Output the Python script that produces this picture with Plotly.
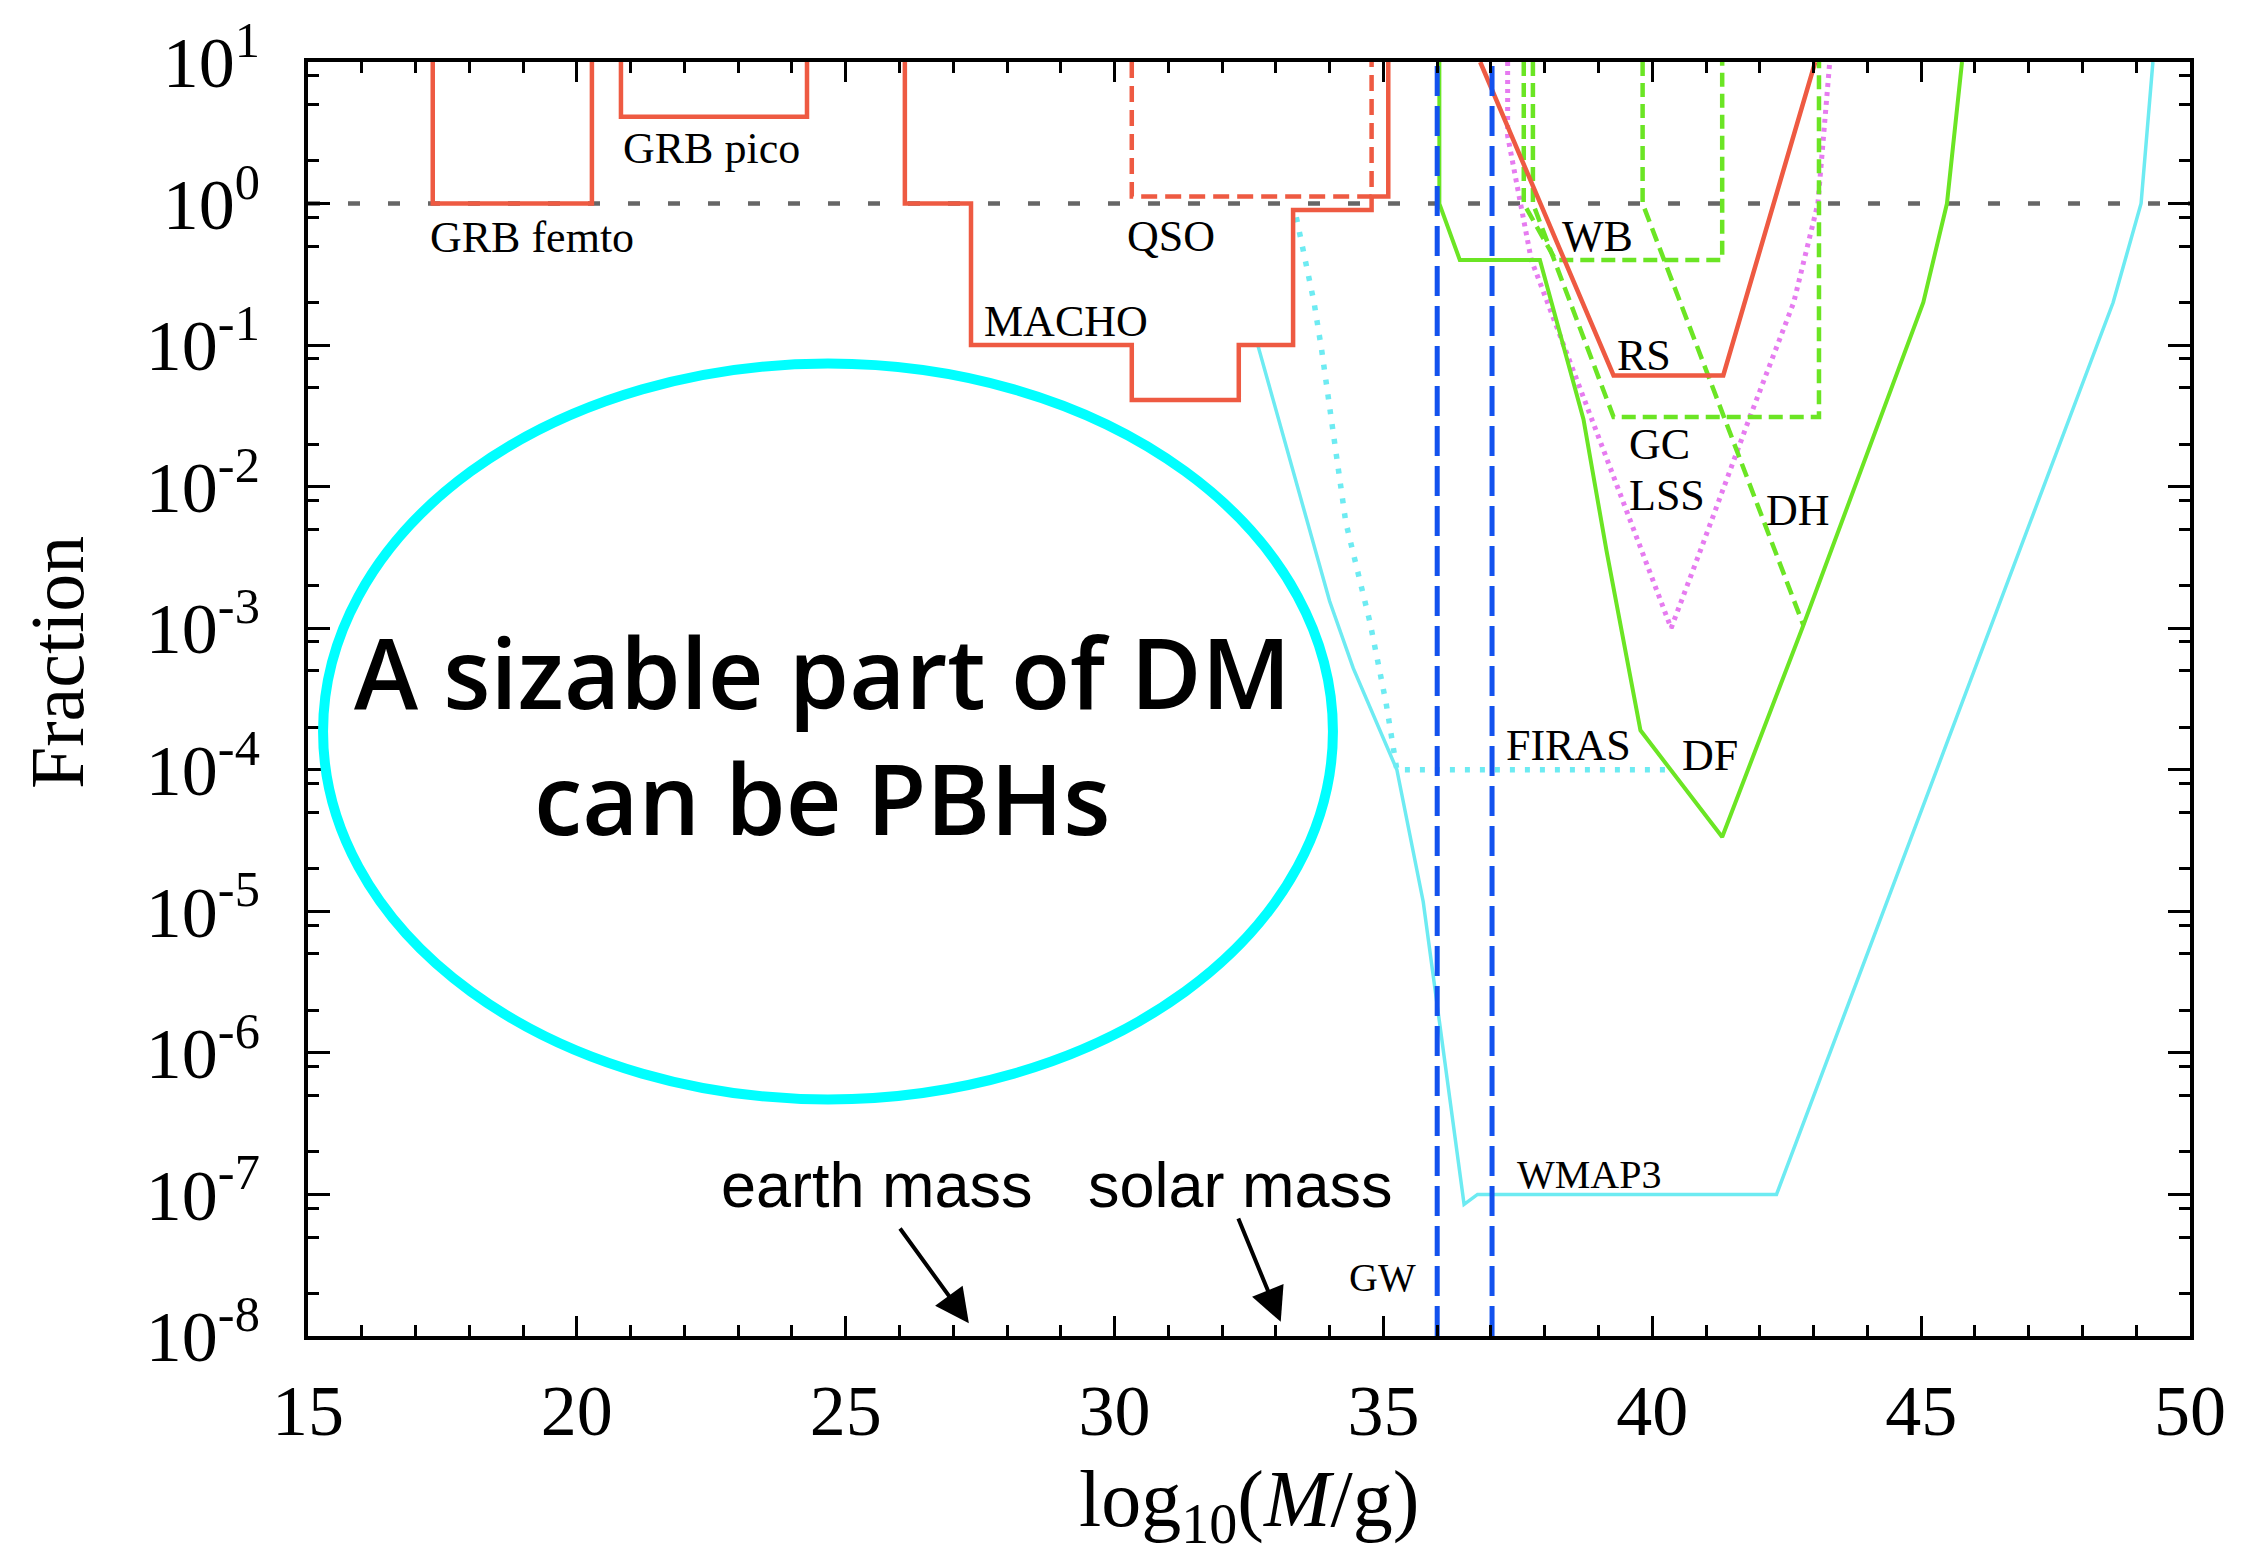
import plotly.graph_objects as go

# ---------------- data ----------------
unit_x = [15, 50]
unit_y = [1.0, 1.0]

grb_femto_x = [17.32, 17.32, 20.28, 20.28]
grb_femto_y = [10, 1.0, 1.0, 10]

grb_pico_x = [20.82, 20.82, 24.28, 24.28]
grb_pico_y = [10, 4.1, 4.1, 10]

macho_x = [26.1, 26.1, 27.33, 27.33, 30.32, 30.32, 32.31, 32.31, 33.32, 33.32, 34.78, 34.78, 35.09, 35.09]
macho_y = [10, 1.0, 1.0, 0.1, 0.1, 0.041, 0.041, 0.1, 0.1, 0.90, 0.90, 1.12, 1.12, 10]

qso_x = [30.32, 30.32, 34.78, 34.78]
qso_y = [10, 1.12, 1.12, 10]

rs_x = [36.8, 39.28, 41.32, 43.03]
rs_y = [10, 0.061, 0.061, 10]

wb_x = [37.61, 37.61, 38.2, 41.3, 41.3]
wb_y = [10, 1.0, 0.40, 0.40, 10]

gc_x = [37.78, 37.78, 39.28, 43.1, 43.1]
gc_y = [10, 1.0, 0.031, 0.031, 10]

dh_x = [39.82, 39.82, 42.81]
dh_y = [10, 1.0, 1.05e-3]

lss_x = [37.31, 37.31, 37.75, 40.35, 40.89, 41.8, 42.63, 43.08, 43.3]
lss_y = [10, 3.0, 0.40, 1.0e-3, 3.5e-3, 0.030, 0.20, 1.0, 10]

df_x = [36.04, 36.04, 36.42, 37.91, 38.72, 39.15, 39.78, 41.30, 42.81, 45.04, 45.48, 45.76]
df_y = [10, 1.0, 0.40, 0.40, 0.030, 3.5e-3, 1.9e-4, 3.35e-5, 1.05e-3, 0.20, 1.0, 10]

wmap_x = [32.67, 34.0, 34.44, 35.25, 35.74, 35.93, 36.2, 36.5, 36.75, 42.31, 48.57, 49.09, 49.31]
wmap_y = [0.098, 1.55e-3, 5.2e-4, 1.0e-4, 1.17e-5, 3.5e-6, 6.3e-7, 8.5e-8, 1.0e-7, 1.0e-7, 0.20, 1.0, 10]

firas_x = [33.38, 33.71, 33.85, 34.3, 34.75, 35.05, 35.25, 40.25]
firas_y = [0.80, 0.20, 0.093, 5.6e-3, 1.1e-3, 2.95e-4, 1.0e-4, 1.0e-4]

gw1_x = [36.0, 36.0]
gw2_x = [37.02, 37.02]
gw_y = [1e-8, 10]

# labels: (text, x, log10 y)
labels = [
    ("GRB femto", 19.17, -0.24),
    ("GRB pico", 22.5, 0.39),
    ("QSO", 31.05, -0.23),
    ("MACHO", 29.1, -0.83),
    ("WB", 38.99, -0.23),
    ("RS", 39.84, -1.07),
    ("GC", 40.13, -1.70),
    ("LSS", 40.27, -2.06),
    ("DH", 42.71, -2.17),
    ("FIRAS", 38.45, -3.83),
    ("DF", 41.07, -3.90),
]
small_labels = [
    ("WMAP3", 38.83, -6.86),
    ("GW", 34.98, -7.59),
]
mass_labels = [
    ("earth mass", 25.59, -6.93),
    ("solar mass", 32.34, -6.93),
]
# arrows: (tail x, tail log y, tip x, tip log y)
arrows = [
    (25.99, -7.23, 27.29, -7.91),
    (32.29, -7.16, 33.09, -7.9),
]
y_tick_exp = list(range(-8, 2))
y_minor_mult = [2, 5, 8]

RED = "#EE5A42"
GREEN = "#6BE524"
CYAN = "#6DEBF2"
BLUE = "#1352EE"
MAGENTA = "#E67BF0"
GRAY = "#666666"

fig = go.Figure()

def add(x, y, color, width, dash="solid"):
    fig.add_trace(go.Scatter(x=x, y=y, mode="lines",
                             line=dict(color=color, width=width, dash=dash),
                             showlegend=False, hoverinfo="skip"))

add(unit_x, unit_y, GRAY, 4.5, "12px,28px")
add(firas_x, firas_y, CYAN, 5.5, "5px,10px")
add(wmap_x, wmap_y, CYAN, 3.5)
add(lss_x, lss_y, MAGENTA, 5, "4px,5px")
add(wb_x, wb_y, GREEN, 4.5, "14px,7px")
add(gc_x, gc_y, GREEN, 4.5, "14px,7px")
add(dh_x, dh_y, GREEN, 4.5, "14px,7px")
add(df_x, df_y, GREEN, 4)
add(grb_femto_x, grb_femto_y, RED, 4.5)
add(grb_pico_x, grb_pico_y, RED, 4.5)
add(qso_x, qso_y, RED, 4.5, "16px,8px")
add(macho_x, macho_y, RED, 4.5)
add(rs_x, rs_y, RED, 4.5)
add(gw1_x, gw_y, BLUE, 5, "30px,10px")
add(gw2_x, gw_y, BLUE, 5, "30px,10px")

ann = []
serif = "Liberation Serif"
for t, x, ly in labels:
    ann.append(dict(text=t, x=x, y=ly, xref="x", yref="y", showarrow=False,
                    font=dict(family=serif, size=44, color="black")))
for t, x, ly in small_labels:
    ann.append(dict(text=t, x=x, y=ly, xref="x", yref="y", showarrow=False,
                    font=dict(family=serif, size=40, color="black")))
for t, x, ly in mass_labels:
    ann.append(dict(text=t, x=x, y=ly, xref="x", yref="y", showarrow=False,
                    font=dict(family="Liberation Sans", size=63, color="black")))
for tx, ty, hx, hy in arrows:
    ann.append(dict(text="", x=hx, y=hy, ax=tx, ay=ty, xref="x", yref="y",
                    axref="x", ayref="y", showarrow=True, arrowhead=2,
                    arrowsize=1.7, arrowwidth=4, arrowcolor="black"))

big_font = dict(family="Open Sans", size=97, color="black", weight=600)
ann.append(dict(text="A sizable part of DM", x=24.56, y=-3.30, xref="x", yref="y",
                showarrow=False, font=big_font))
ann.append(dict(text="can be PBHs", x=24.56, y=-4.19, xref="x", yref="y",
                showarrow=False, font=big_font))

ann.append(dict(text="Fraction", x=-0.1334, y=0.529, xref="paper", yref="paper",
                xanchor="center", yanchor="middle",
                textangle=-90, showarrow=False,
                font=dict(family=serif, size=76, color="black")))
ann.append(dict(text="log<sub>10</sub>(<i>M</i>/g)", x=0.5, y=-0.133, xref="paper", yref="paper",
                xanchor="center", yanchor="middle",
                showarrow=False, font=dict(family=serif, size=80, color="black")))

shapes = [dict(type="circle", xref="paper", yref="paper",
               x0=0.008, x1=0.5446, y0=0.1857, y1=0.7633,
               line=dict(color="#00FFFF", width=10))]

ytickvals = [10.0 ** e for e in y_tick_exp]
yticktext = ["10<sup>%d</sup>" % e for e in y_tick_exp]
yminor = [m * 10.0 ** e for e in y_tick_exp[:-1] for m in y_minor_mult]

fig.update_layout(
    width=2249, height=1560,
    margin=dict(l=308, r=59, t=59, b=224),
    paper_bgcolor="white", plot_bgcolor="white",
    annotations=ann, shapes=shapes,
    xaxis=dict(range=[15, 50], showgrid=False, zeroline=False,
               showline=True, linewidth=3.5, linecolor="black", mirror="ticks",
               ticks="inside", ticklen=20, tickwidth=3, tickcolor="black",
               tick0=15, dtick=5, ticklabelstandoff=9,
               tickfont=dict(family=serif, size=72, color="black"),
               minor=dict(dtick=1, ticks="inside", ticklen=11, tickwidth=2.5,
                          tickcolor="black", showgrid=False)),
    yaxis=dict(type="log", range=[-8, 1], showgrid=False, zeroline=False,
               showline=True, linewidth=3.5, linecolor="black", mirror="ticks",
               ticks="inside", ticklen=22, tickwidth=3, tickcolor="black",
               tickmode="array", tickvals=ytickvals, ticktext=yticktext,
               ticklabelstandoff=30,
               tickfont=dict(family=serif, size=72, color="black"),
               minor=dict(tickmode="array", tickvals=yminor, ticks="inside",
                          ticklen=11, tickwidth=2.5, tickcolor="black",
                          showgrid=False)),
)

fig.write_html("out.html")
